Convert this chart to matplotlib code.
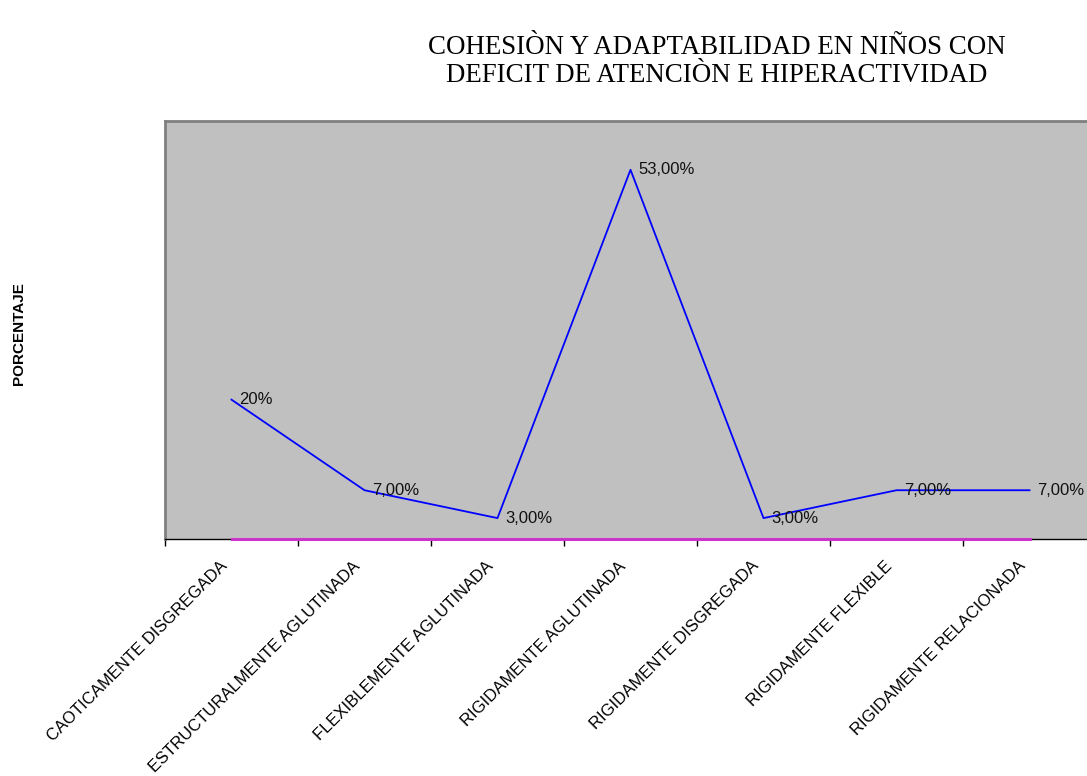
import matplotlib
matplotlib.use("Agg")
import matplotlib.pyplot as plt
import matplotlib.transforms as mtransforms
import numpy as np

categorias = [
    "CAOTICAMENTE DISGREGADA",
    "ESTRUCTURALMENTE AGLUTINADA",
    "FLEXIBLEMENTE AGLUTINADA",
    "RIGIDAMENTE AGLUTINADA",
    "RIGIDAMENTE DISGREGADA",
    "RIGIDAMENTE FLEXIBLE",
    "RIGIDAMENTE RELACIONADA",
]
porcentaje = [20, 7, 3, 53, 3, 7, 7]
etiquetas = ["20%", "7,00%", "3,00%", "53,00%", "3,00%", "7,00%", "7,00%"]
serie_cero = [0, 0, 0, 0, 0, 0, 0]

fig = plt.figure(figsize=(10.87, 7.76), dpi=100)
# plot area runs a little past the right edge of the figure
ax = fig.add_axes([165 / 1087, 1 - 539 / 776, 931 / 1087, 418 / 776])
ax.set_facecolor("#c0c0c0")

x = np.arange(len(categorias))
ax.plot(x, porcentaje, color="#0000ff", lw=1.3, zorder=3)
ax.plot(x, serie_cero, color="#cc33cc", lw=2.2, zorder=4, clip_on=False)

for xi, yi, lab in zip(x, porcentaje, etiquetas):
    ax.annotate(lab, (xi, yi), xytext=(8, 0), textcoords="offset pixels",
                ha="left", va="center", fontsize=12, family="Liberation Sans",
                color="#111111", zorder=5)

ax.set_xlim(-0.5, len(categorias) - 0.5)
ax.set_ylim(0, 60)
ax.set_yticks([])

ax.set_xticks(x)
ax.set_xticklabels(categorias, rotation=45, ha="right", va="top",
                   rotation_mode="anchor", fontsize=12, family="Liberation Sans")
ax.tick_params(axis="x", which="major", length=0, pad=14)
shift = mtransforms.ScaledTranslation(-12 / 100, 0, fig.dpi_scale_trans)
for lbl in ax.get_xticklabels():
    lbl.set_transform(lbl.get_transform() + shift)
ax.set_xticks(np.arange(len(categorias)) - 0.5, minor=True)
ax.tick_params(axis="x", which="minor", length=5, width=1, color="black", direction="out")

for side in ("left", "top", "right"):
    ax.spines[side].set_color("#808080")
    ax.spines[side].set_linewidth(2)
ax.spines["bottom"].set_color("black")
ax.spines["bottom"].set_linewidth(1)

fig.text(19 / 1087, 1 - 334 / 776, "PORCENTAJE", rotation=90, ha="center", va="center",
         fontsize=11, fontweight="bold", family="Liberation Sans")

fig.text(717 / 1087, 1 - 47 / 776, "COHESIÒN Y ADAPTABILIDAD EN NIÑOS CON",
         ha="center", va="center", fontsize=19.4, family="Liberation Serif")
fig.text(717 / 1087, 1 - 76 / 776, "DEFICIT DE ATENCIÒN E HIPERACTIVIDAD",
         ha="center", va="center", fontsize=19.4, family="Liberation Serif")

fig.savefig("out.png", dpi=100)
